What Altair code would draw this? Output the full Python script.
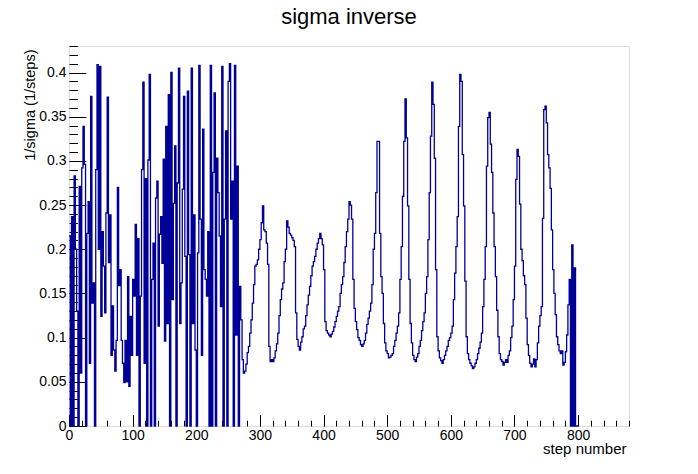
import altair as alt
import pandas as pd

# histogram: bins of width 2 steps, first bin starts at step 0
bin_width = 2

sigma_inv = [
    # 0-18
    0.215, 0.0, 0.237, 0.0, 0.283, 0.20, 0.13, 0.0, 0.271, 0.06,
    # 20-38
    0.292, 0.339, 0.296, 0.0, 0.218, 0.254, 0.071, 0.373, 0.139, 0.162,
    # 40-58
    0.0, 0.290, 0.409, 0.20, 0.407, 0.124, 0.220, 0.181, 0.128, 0.241,
    # 60-78
    0.372, 0.185, 0.239, 0.080, 0.136, 0.086, 0.062, 0.097, 0.270, 0.159,
    # 80-98
    0.177, 0.097, 0.071, 0.049, 0.097, 0.05, 0.169, 0.045, 0.124, 0.08,
    # 100-118
    0.166, 0.147, 0.228, 0.08, 0.212, 0.0, 0.147, 0.290, 0.389, 0.071,
    # 120-138
    0.28, 0.0, 0.301, 0.398, 0.0, 0.166, 0.207, 0.0, 0.258, 0.277,
    # 140-158
    0.113, 0.217, 0.237, 0.184, 0.302, 0.096, 0.339, 0.116, 0.375, 0.0,
    # 160-178
    0.400, 0.143, 0.252, 0.317, 0.0, 0.275, 0.405, 0.116, 0.162, 0.268,
    # 180-198
    0.373, 0.192, 0.0, 0.379, 0.194, 0.0, 0.405, 0.116, 0.239, 0.086,
    # 200-218
    0.0, 0.196, 0.408, 0.234, 0.08, 0.336, 0.177, 0.166, 0.147, 0.22,
    # 220-238
    0.0, 0.408, 0.0, 0.287, 0.377, 0.0, 0.303, 0.264, 0.215, 0.135,
    # 240-258
    0.407, 0.0, 0.234, 0.334, 0.0, 0.39, 0.41, 0.234, 0.277, 0.0,
    # 260-268
    0.408, 0.103, 0.294, 0.0, 0.158,
    # 270-288
    0.12, 0.075, 0.060, 0.062, 0.07, 0.083, 0.09, 0.105, 0.12, 0.139,
    # 290-308
    0.16, 0.181, 0.183, 0.188, 0.20, 0.211, 0.230, 0.249, 0.222, 0.220,
    # 310-328
    0.207, 0.183, 0.090, 0.073, 0.075, 0.073, 0.077, 0.085, 0.093, 0.105,
    # 330-348
    0.125, 0.143, 0.155, 0.162, 0.186, 0.200, 0.232, 0.225, 0.218, 0.216,
    # 350-368
    0.213, 0.210, 0.203, 0.128, 0.098, 0.090, 0.086, 0.095, 0.101, 0.110,
    # 370-388
    0.113, 0.125, 0.137, 0.148, 0.158, 0.170, 0.181, 0.186, 0.192, 0.200,
    # 390-408
    0.207, 0.212, 0.218, 0.212, 0.205, 0.177, 0.118, 0.108, 0.105, 0.103,
    # 410-428
    0.101, 0.104, 0.107, 0.112, 0.118, 0.124, 0.130, 0.135, 0.150, 0.160,
    # 430-448
    0.169, 0.185, 0.203, 0.220, 0.234, 0.254, 0.250, 0.234, 0.166, 0.133,
    # 450-468
    0.118, 0.109, 0.100, 0.097, 0.092, 0.090, 0.093, 0.097, 0.105, 0.115,
    # 470-488
    0.122, 0.130, 0.139, 0.160, 0.200, 0.218, 0.264, 0.322, 0.322, 0.218,
    # 490-508
    0.169, 0.150, 0.116, 0.094, 0.085, 0.082, 0.077, 0.078, 0.080, 0.082,
    # 510-528
    0.090, 0.097, 0.105, 0.113, 0.128, 0.166, 0.203, 0.260, 0.322, 0.370,
    # 530-548
    0.326, 0.249, 0.166, 0.116, 0.094, 0.080, 0.075, 0.073, 0.078, 0.082,
    # 550-568
    0.090, 0.097, 0.108, 0.118, 0.128, 0.150, 0.169, 0.211, 0.264, 0.328,
    # 570-588
    0.389, 0.364, 0.303, 0.177, 0.101, 0.085, 0.077, 0.074, 0.071, 0.075,
    # 590-608
    0.080, 0.085, 0.090, 0.097, 0.100, 0.105, 0.113, 0.143, 0.173, 0.203,
    # 610-628
    0.237, 0.339, 0.398, 0.390, 0.307, 0.249, 0.164, 0.101, 0.082, 0.075,
    # 630-648
    0.071, 0.068, 0.065, 0.067, 0.071, 0.075, 0.082, 0.088, 0.095, 0.105,
    # 650-668
    0.135, 0.166, 0.203, 0.294, 0.349, 0.355, 0.319, 0.287, 0.241, 0.203,
    # 670-688
    0.169, 0.131, 0.101, 0.082, 0.075, 0.073, 0.069, 0.072, 0.075, 0.072,
    # 690-708
    0.080, 0.085, 0.100, 0.113, 0.143, 0.181, 0.279, 0.313, 0.305, 0.251,
    # 710-728
    0.200, 0.187, 0.170, 0.160, 0.122, 0.092, 0.080, 0.071, 0.067, 0.070,
    # 730-748
    0.076, 0.067, 0.075, 0.094, 0.113, 0.125, 0.135, 0.235, 0.358, 0.362,
    # 750-768
    0.343, 0.307, 0.292, 0.269, 0.222, 0.177, 0.150, 0.126, 0.101, 0.092,
    # 770-788
    0.085, 0.082, 0.085, 0.069, 0.072, 0.084, 0.103, 0.137, 0.166, 0.0,
    # 790-800
    0.205, 0.0, 0.179, 0.0, 0.0, 0.0,
]

steps = [i * bin_width for i in range(len(sigma_inv))]
df = pd.DataFrame({"step": steps, "val": sigma_inv})

chart_title = "sigma inverse"
x_title = "step number"
y_title = "1/sigma (1/steps)"

x_major = [0, 100, 200, 300, 400, 500, 600, 700, 800]
x_minor = list(range(0, 881, 20))
y_major = [0, 0.05, 0.1, 0.15, 0.2, 0.25, 0.3, 0.35, 0.4]
y_minor = [round(i * 0.01, 2) for i in range(44)]

W, H = 560, 380
FONT = "Liberation Sans"
xscale = alt.Scale(domain=[0, 880], nice=False, zero=False)
yscale = alt.Scale(domain=[0, 0.43], nice=False, zero=False)

base = alt.Chart(df)

main = base.mark_line(interpolate="step-after", color="#000099", strokeWidth=1.3).encode(
    x=alt.X(
        "step:Q", scale=xscale,
        axis=alt.Axis(
            orient="bottom", values=x_major, ticks=False, tickSize=0, domain=False, grid=False,
            labelFont=FONT, labelFontSize=14, labelColor="black", labelPadding=2,
            labelFlush=False, labelOverlap=False, format="d",
            title=x_title, titleFont=FONT, titleFontSize=15, titleFontWeight="normal",
            titleColor="black", titleAlign="right", titleBaseline="alphabetic",
            titleX=557, titleY=27,
        ),
    ),
    y=alt.Y(
        "val:Q", scale=yscale,
        axis=alt.Axis(
            orient="left", values=y_major, ticks=False, tickSize=0, domain=False, grid=False,
            labelFont=FONT, labelFontSize=14, labelColor="black", labelPadding=3,
            labelFlush=False, labelOverlap=False, format="~g",
            title=y_title, titleFont=FONT, titleFontSize=14.5, titleFontWeight="normal",
            titleColor="black", titleAngle=270, titleAlign="right", titleBaseline="middle",
            titleX=-39, titleY=3,
        ),
    ),
)


def tick_layer(xvals, xsize, yvals, ysize):
    return base.mark_line(strokeOpacity=0).encode(
        x=alt.X(
            "step:Q", scale=xscale,
            axis=alt.Axis(
                orient="top", offset=-H, values=xvals, labels=False, domain=False, grid=False,
                ticks=True, tickSize=xsize, tickColor="black", tickWidth=1, title="",
            ),
        ),
        y=alt.Y(
            "val:Q", scale=yscale,
            axis=alt.Axis(
                orient="right", offset=-W, values=yvals, labels=False, domain=False, grid=False,
                ticks=True, tickSize=ysize, tickColor="black", tickWidth=1, title="",
            ),
        ),
    )


major = tick_layer(x_major, 11.4, y_major, 16.8)
minor = tick_layer(x_minor, 5.7, y_minor, 8.4)

# chart title drawn as a text mark centred above the frame
title_layer = alt.Chart(alt.Data(values=[{"t": chart_title}])).mark_text(
    font=FONT, fontSize=22, color="black", align="center", baseline="alphabetic",
).encode(
    text="t:N",
    x=alt.value(W / 2),
    y=alt.value(-22.3),
)

chart = (
    alt.layer(main, major, minor, title_layer)
    .resolve_axis(x="independent", y="independent")
    .properties(
        width=W,
        height=H,
        autosize=alt.AutoSizeParams(type="none"),
        padding={"left": 61, "top": 38, "right": 61, "bottom": 40},
    )
    .configure_view(stroke="black", strokeWidth=1)
    .configure(background="white")
)

chart.save("out.html", embed_options={"renderer": "svg", "actions": False})
